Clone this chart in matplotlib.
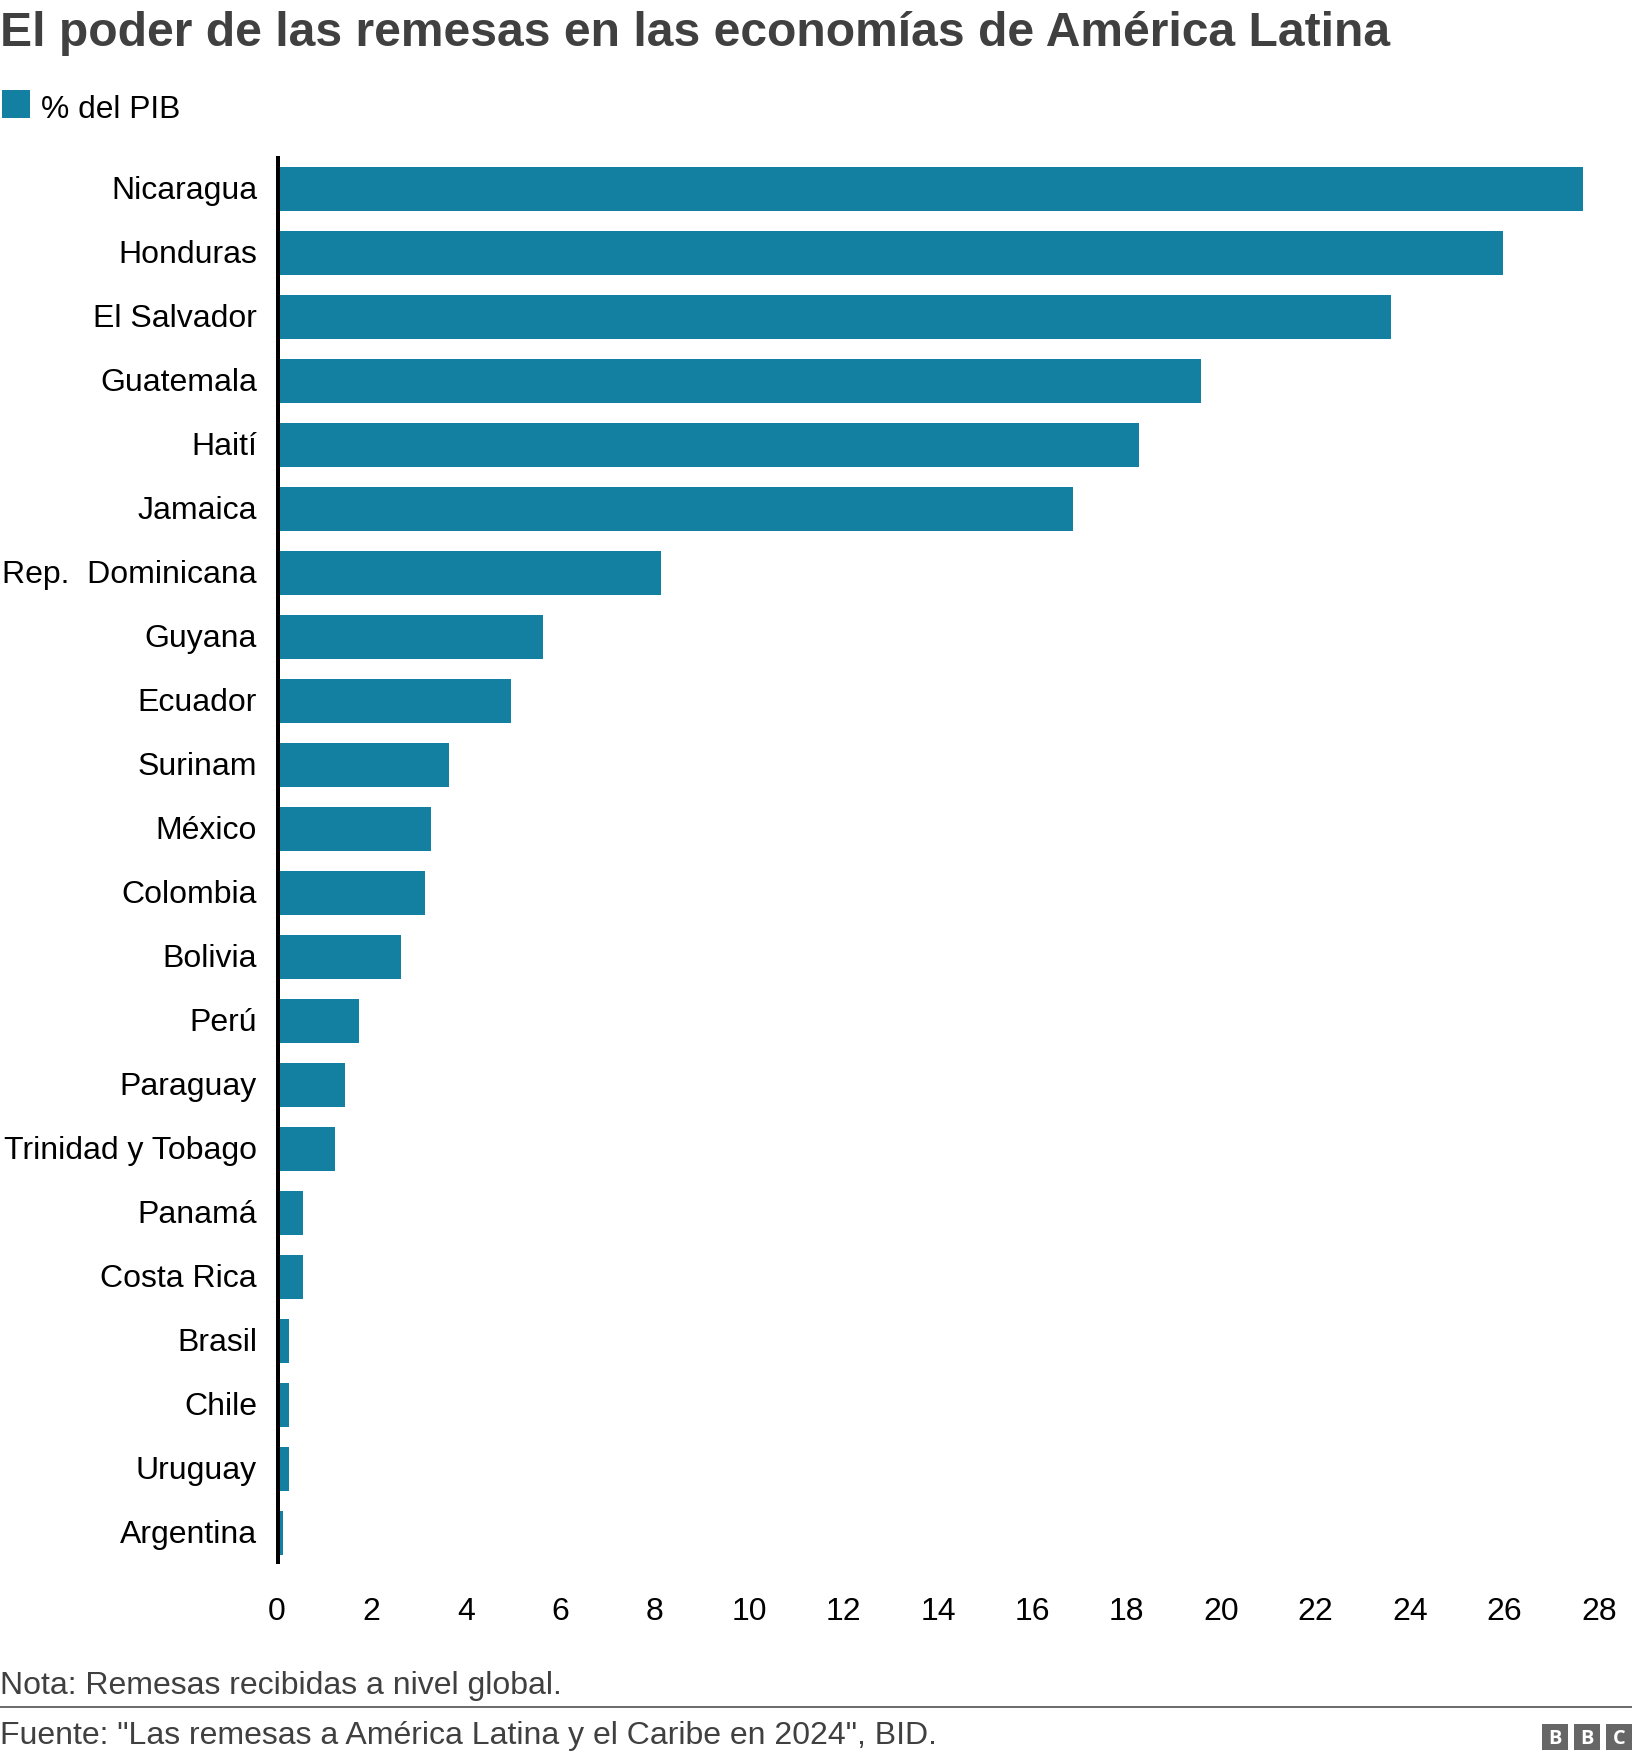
import matplotlib
matplotlib.use("Agg")
import matplotlib.pyplot as plt
from matplotlib.patches import Rectangle
from matplotlib.lines import Line2D
from matplotlib.transforms import ScaledTranslation

W, H = 1632, 1762
DPI = 100

countries = ["Nicaragua", "Honduras", "El Salvador", "Guatemala", "Haití", "Jamaica",
             "Rep.  Dominicana", "Guyana", "Ecuador", "Surinam", "México", "Colombia",
             "Bolivia", "Perú", "Paraguay", "Trinidad y Tobago", "Panamá", "Costa Rica",
             "Brasil", "Chile", "Uruguay", "Argentina"]
values = [27.65, 25.95, 23.57, 19.55, 18.24, 16.84, 8.12, 5.62, 4.93, 3.63, 3.25, 3.12,
          2.6, 1.72, 1.42, 1.2, 0.53, 0.53, 0.24, 0.24, 0.24, 0.1]
xticks = list(range(0, 29, 2))

title = "El poder de las remesas en las economías de América Latina"
legend_label = "% del PIB"
note = "Nota: Remesas recibidas a nivel global."
source = 'Fuente: "Las remesas a América Latina y el Caribe en 2024", BID.'

BAR = "#1380A1"
DARK = "#404040"
GREY = "#6E6E6E"
LOGO = "#666666"

plt.rcParams["font.family"] = ["Liberation Sans", "DejaVu Sans"]
def pt(px):
    return px * 72 / DPI

fig = plt.figure(figsize=(W / DPI, H / DPI), dpi=DPI, facecolor="white")
def fx(x): return x / W
def fy(y): return 1 - y / H

L, R, T, B = 278, 1600, 156, 1564
ax = fig.add_axes([fx(L), fy(B), fx(R - L), (B - T) / H])
ypos = list(range(len(countries)))
ax.barh(ypos, values, height=0.6875, color=BAR, zorder=2)
ax.set_xlim(0, 28)
ax.set_ylim(21.484, -0.516)
ax.set_yticks(ypos, countries)
ax.set_xticks(xticks, [str(t) for t in xticks])
ax.tick_params(axis="y", length=0, pad=pt(21), labelsize=pt(32), labelcolor="black")
ax.tick_params(axis="x", length=0, pad=pt(33), labelsize=pt(32), labelcolor="black")
up = ScaledTranslation(0, 2 / DPI, fig.dpi_scale_trans)
for lab in ax.get_yticklabels():
    lab.set_transform(lab.get_transform() + up)
left = ScaledTranslation(-1 / DPI, 0, fig.dpi_scale_trans)
for lab in ax.get_xticklabels():
    lab.set_transform(lab.get_transform() + left)
for s in ["top", "right", "bottom"]:
    ax.spines[s].set_visible(False)
ax.spines["left"].set_linewidth(pt(4))
ax.spines["left"].set_color("black")
ax.spines["left"].set_capstyle("butt")
ax.spines["left"].set_zorder(5)
ax.patch.set_alpha(0)

fig.text(fx(0), fy(46), title, fontsize=pt(47.95), fontweight="bold", color=DARK, va="baseline", ha="left")
fig.patches.append(Rectangle((fx(2), fy(118)), fx(28), 28 / H, transform=fig.transFigure, facecolor=BAR, edgecolor="none"))
fig.text(fx(41), fy(118), legend_label, fontsize=pt(31.8), color="black", va="baseline", ha="left")
fig.text(fx(0), fy(1694), note, fontsize=pt(32), color=DARK, va="baseline", ha="left")
fig.text(fx(0), fy(1744), source, fontsize=pt(32), color=DARK, va="baseline", ha="left")
fig.add_artist(Line2D([0, 1], [fy(1707), fy(1707)], transform=fig.transFigure, color=GREY, linewidth=pt(2)))

for x0, letter in zip([1542, 1574, 1606], "BBC"):
    fig.patches.append(Rectangle((fx(x0), fy(1750)), fx(26), 26 / H, transform=fig.transFigure, facecolor=LOGO, edgecolor="none"))
    fig.text(fx(x0 + 13), fy(1737), letter, fontsize=pt(20), fontweight="bold", color="white", va="center_baseline", ha="center", family=["Open Sans", "DejaVu Sans"])

fig.savefig("out.png", dpi=DPI, facecolor="white")
